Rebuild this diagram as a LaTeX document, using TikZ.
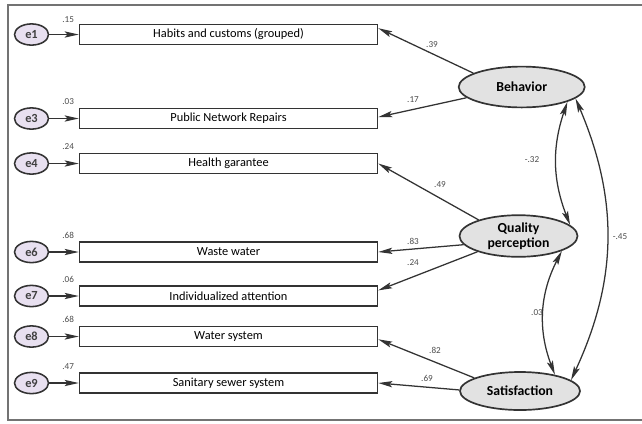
\documentclass[tikz,border=0pt]{standalone}
\usepackage{fontspec}
\setmainfont{Carlito}
\usetikzlibrary{arrows.meta,shapes.geometric}
\tikzset{>={Stealth[length=10pt,width=4.4pt,inset=2pt]}}
\definecolor{errfill}{HTML}{E8E0F0}
\definecolor{latfill}{HTML}{E2E2E2}
\definecolor{edgegray}{HTML}{333333}

\begin{document}
\begin{tikzpicture}[x=0.025cm,y=-0.025cm,
  obs/.style={draw=edgegray,line width=1pt,fill=white,minimum width=7.45cm,minimum height=0.5cm,inner sep=0pt,font=\fontsize{8.8}{10}\selectfont},
  err/.style={ellipse,draw=edgegray,line width=1.1pt,fill=errfill,minimum width=0.85cm,minimum height=0.53cm,inner sep=0pt,text=black!75,font=\fontsize{8.8}{9}\selectfont\bfseries},
  lat/.style={ellipse,draw=edgegray,line width=1.2pt,fill=latfill,inner sep=0pt,align=center,font=\fontsize{9.8}{11}\selectfont\bfseries},
  num/.style={inner sep=0.5pt,text=black!70,font=\fontsize{6.5}{7}\selectfont},
  load/.style={->,line width=0.9pt,draw=edgegray},
  covar/.style={<->,line width=0.9pt,draw=edgegray}]

  \useasboundingbox (0,0) rectangle (642,423);
  \draw[black!55,line width=0.8pt] (642,5) -- (8,5) -- (8,420) -- (642,420);

  % indicators
  \node[obs] (b1) at (228.5,34.5) {Habits and customs (grouped)};
  \node[obs] (b3) at (228.5,118.5) {Public Network Repairs};
  \node[obs] (b4) at (228.5,163.5) {Health garantee};
  \node[obs] (b6) at (228.5,252) {Waste water};
  \node[obs] (b7) at (228.5,296) {Individualized attention};
  \node[obs] (b8) at (228.5,336.5) {Water system};
  \node[obs] (b9) at (228.5,383) {Sanitary sewer system};

  % error terms
  \node[err] (e1) at (31.5,34.5) {e1};
  \node[err] (e3) at (31.5,118.5) {e3};
  \node[err] (e4) at (31.5,163.5) {e4};
  \node[err] (e6) at (31.5,252) {e6};
  \node[err] (e7) at (31.5,296) {e7};
  \node[err] (e8) at (31.5,336.5) {e8};
  \node[err] (e9) at (31.5,383) {e9};

  \draw[load] (e1) -- (b1);
  \draw[load] (e3) -- (b3);
  \draw[load] (e4) -- (b4);
  \draw[load] (e6) -- (b6);
  \draw[load] (e7) -- (b7);
  \draw[load] (e8) -- (b8);
  \draw[load] (e9) -- (b9);

  \node[num,anchor=south] at ([xshift=-7.5pt]b1.north west) {.15};
  \node[num,anchor=south] at ([xshift=-7.5pt,yshift=1.5pt]b3.north west) {.03};
  \node[num,anchor=south] at ([xshift=-7.5pt,yshift=1.5pt]b4.north west) {.24};
  \node[num,anchor=south] at ([xshift=-7.5pt,yshift=1.5pt]b6.north west) {.68};
  \node[num,anchor=south] at ([xshift=-7.5pt,yshift=1.5pt]b7.north west) {.06};
  \node[num,anchor=south] at ([xshift=-7.5pt,yshift=1.5pt]b8.north west) {.68};
  \node[num,anchor=south] at ([xshift=-7.5pt,yshift=1.5pt]b9.north west) {.47};

  % latent factors
  \node[lat,minimum width=3.15cm,minimum height=1.02cm] (beh) at (521.7,87) {Behavior};
  \node[lat,minimum width=2.95cm,minimum height=1.04cm] (qual) at (518.5,236) {Quality\\perception};
  \node[lat,minimum width=3.0cm,minimum height=0.95cm] (sat) at (520,391) {Satisfaction};

  \draw[load] (beh.164) -- ([yshift=4.5pt]b1.east);
  \draw[load] (beh.191) -- ([yshift=1pt]b3.east);
  \draw[load] (qual.158) -- (b4.east);
  \draw[load] (qual.189) -- (b6.east);
  \draw[load] (qual.201) -- ([yshift=4pt]b7.east);
  \draw[load] (sat.164) -- ([yshift=-2pt]b8.east);
  \draw[load] (sat.179) -- (b9.east);

  \node[num] at (432,45) {.39};
  \node[num] at (413,100) {.17};
  \node[num] at (440,185) {.49};
  \node[num] at (413,241) {.83};
  \node[num] at (413,263) {.24};
  \node[num] at (435,350) {.82};
  \node[num] at (427,378) {.69};

  % correlations
  \draw[covar] (beh.-18) to[bend right=20] (qual.12);
  \draw[covar] (qual.-19) to[bend right=24] (sat.25);
  \draw[covar] (beh.-12) to[bend left=24] (sat.12);

  \node[num] at (532,160) {-.32};
  \node[num] at (537,313) {.03};
  \node[num] at (620,237) {-.45};

\end{tikzpicture}
\end{document}
